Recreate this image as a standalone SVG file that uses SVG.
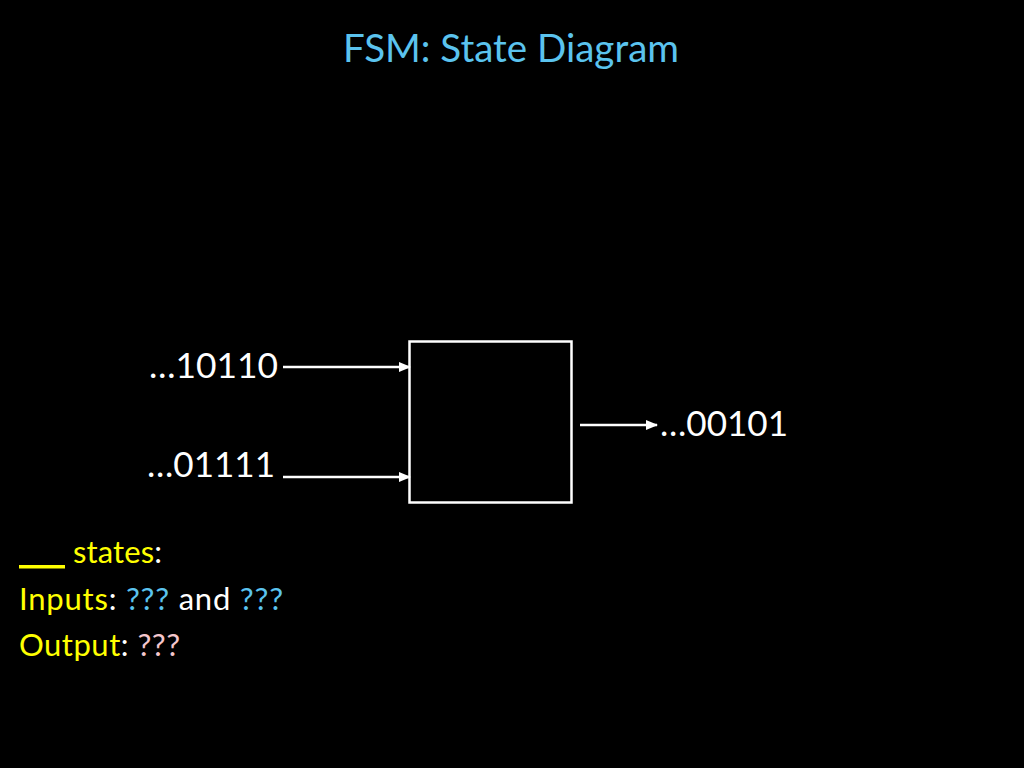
<svg xmlns="http://www.w3.org/2000/svg" width="1024" height="768" viewBox="0 0 1024 768">
<style>
text{font-family:Lato,"Liberation Sans",sans-serif;}
.w{fill:#fff;font-size:35px}
.t{font-size:31px}
.y{fill:#ffff00}.b{fill:#5bc3ee}.p{fill:#f4c6cc}.wh{fill:#fff}
.c{stroke:#fff;stroke-width:2.500;fill:none;marker-end:url(#a)}
</style>
<defs><marker id="a" markerWidth="12" markerHeight="10" refX="11" refY="5" orient="auto" markerUnits="userSpaceOnUse"><path d="M0,0L12,5L0,10Z" fill="#fff"/></marker></defs>
<rect width="1024" height="768" fill="#000"/>
<text x="511" y="62" text-anchor="middle" font-size="39" fill="#5bc3ee" textLength="336" lengthAdjust="spacingAndGlyphs">FSM: State Diagram</text>
<g id="box"><rect x="409.500" y="341.500" width="162" height="161" fill="#000" stroke="#fff" stroke-width="2.500"/></g>
<g id="connectors">
<path class="c" d="M283,367H410"/>
<path class="c" d="M283,477H410"/>
<path class="c" d="M580,425H657"/>
</g>
<g id="labels">
<text class="w" x="149" y="378" textLength="129" lengthAdjust="spacingAndGlyphs">…10110</text>
<text class="w" x="147" y="477" textLength="128" lengthAdjust="spacingAndGlyphs">…01111</text>
<text class="w" x="660" y="436" textLength="128" lengthAdjust="spacingAndGlyphs">…00101</text>
</g>
<g id="info" class="t">
<rect x="19" y="565" width="46" height="3.500" fill="#ffff00"/>
<text x="73" y="563" textLength="89"><tspan class="y">states</tspan><tspan class="wh">:</tspan></text>
<text x="19" y="610" textLength="264"><tspan class="y">Inputs</tspan><tspan class="wh">: </tspan><tspan class="b">???</tspan><tspan class="wh"> and </tspan><tspan class="b">???</tspan></text>
<text x="19" y="656" textLength="161"><tspan class="y">Output</tspan><tspan class="wh">: </tspan><tspan class="p">???</tspan></text>
</g>
</svg>
